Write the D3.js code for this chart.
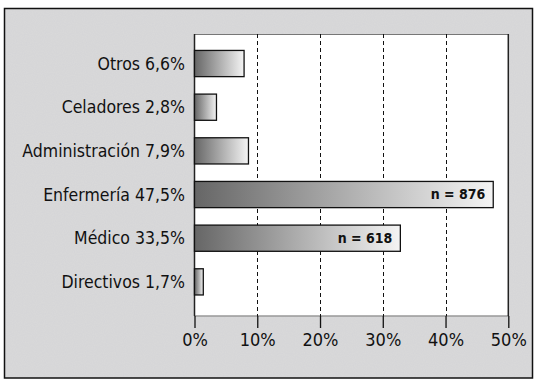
<!DOCTYPE html>
<html lang="es">
<head>
<meta charset="utf-8">
<title>Distribución por categoría</title>
<script src="https://d3js.org/d3.v7.min.js"></script>
<style>
    body{margin:0;background:#fff;}
    svg text{font-family:"Liberation Sans Narrow","DejaVu Sans Condensed","Liberation Sans",sans-serif;fill:#111;}
</style>
</head>
<body>
<div id="chart1"></div>
<script>
// categories (top to bottom), their label percentages, and bar lengths as drawn
var categories = ["Otros","Celadores","Administración","Enfermería","Médico","Directivos"]
var pctLabels = ["6,6%","2,8%","7,9%","47,5%","33,5%","1,7%"]
var barValues = [7.9,3.5,8.6,47.6,32.8,1.4]
var nLabels = ["","","","n = 876","n = 618",""]
var ticks = [0,10,20,30,40,50]

var w = 538, h = 383
var pLeft = 194.5, pRight = 508.3, pTop = 34, pBottom = 316

var svg = d3.select("#chart1").append("svg")
    .attr("width",w).attr("height",h)

var defs = svg.append("defs")
var grad = defs.append("linearGradient").attr("id","barGrad")
    .attr("x1","0%").attr("x2","100%").attr("y1","0%").attr("y2","0%")
grad.append("stop").attr("offset","0%").attr("stop-color","#666")
grad.append("stop").attr("offset","100%").attr("stop-color","#f4f4f4")

// speckled grey background
var noise = defs.append("filter").attr("id","grain").attr("x",0).attr("y",0).attr("width","100%").attr("height","100%")
noise.append("feTurbulence").attr("type","fractalNoise").attr("baseFrequency",0.9).attr("numOctaves",1).attr("seed",3).attr("result","n")
noise.append("feColorMatrix").attr("in","n").attr("type","matrix")
    .attr("values","0 0 0 0 0.6  0 0 0 0 0.6  0 0 0 0 0.68  0 0 0 0.5 -0.1")
    .attr("result","c")
noise.append("feComposite").attr("in","c").attr("in2","SourceGraphic").attr("operator","atop")

svg.append("rect").attr("x",4.5).attr("y",8.5).attr("width",528).attr("height",369.5)
    .attr("fill","#d9d9d9").attr("stroke","none").attr("filter","url(#grain)")
svg.append("rect").attr("x",4.5).attr("y",8.5).attr("width",528).attr("height",369.5)
    .attr("fill","none").attr("stroke","#111").attr("stroke-width",1.5)

var xScale = d3.scaleLinear().domain([0,50]).range([pLeft,pRight])
var yScale = d3.scaleBand().domain(categories).range([41.7,303.7])
    .paddingInner(0.4).paddingOuter(0.2)

// plot area
svg.append("rect").attr("x",pLeft).attr("y",pTop).attr("width",pRight-pLeft).attr("height",pBottom-pTop)
    .attr("fill","#fff")
svg.append("line").attr("x1",pLeft).attr("x2",pRight).attr("y1",pTop+0.5).attr("y2",pTop+0.5)
    .attr("stroke","#777").attr("stroke-width",1)
svg.append("line").attr("x1",pLeft).attr("x2",pRight).attr("y1",pBottom).attr("y2",pBottom)
    .attr("stroke","#999").attr("stroke-width",1.5)

// dashed grid inside the plot
svg.selectAll(".grid").data(ticks.slice(1,5)).enter().append("line")
    .attr("class","grid")
    .attr("x1",function(d){return Math.round(xScale(d))+0.5})
    .attr("x2",function(d){return Math.round(xScale(d))+0.5})
    .attr("y1",pTop).attr("y2",pBottom)
    .attr("stroke","#111").attr("stroke-dasharray","4,3")

// x axis ticks below the plot
var xAxis = d3.axisBottom(xScale).tickValues(ticks).tickSize(12).tickPadding(3)
    .tickFormat(function(d){return d+"%"})
var gx = svg.append("g").attr("transform","translate(0,"+pBottom+")").call(xAxis)
gx.select(".domain").remove()
gx.selectAll("line").attr("stroke","#111").attr("stroke-width",1.3)
gx.selectAll("text").attr("font-size","18px").style("font-family",'"Liberation Sans Narrow","DejaVu Sans Condensed",sans-serif').attr("fill","#111").attr("dy","0.85em")

// side borders of plot
svg.append("line").attr("x1",pLeft).attr("x2",pLeft).attr("y1",pTop).attr("y2",pBottom)
    .attr("stroke","#222").attr("stroke-width",1.5)
svg.append("line").attr("x1",pRight).attr("x2",pRight).attr("y1",pTop).attr("y2",pBottom)
    .attr("stroke","#222").attr("stroke-width",1.5)

// bars
svg.selectAll(".bar").data(categories).enter().append("rect")
    .attr("class","bar")
    .attr("x",pLeft)
    .attr("y",function(d){return yScale(d)})
    .attr("width",function(d,i){return xScale(barValues[i])-pLeft})
    .attr("height",yScale.bandwidth())
    .attr("fill","url(#barGrad)")
    .attr("stroke","#111").attr("stroke-width",1.3)

// category labels
svg.selectAll(".cat").data(categories).enter().append("text")
    .attr("class","cat")
    .attr("x",185)
    .attr("y",function(d){return yScale(d)+yScale.bandwidth()/2})
    .attr("dy","0.35em")
    .attr("text-anchor","end")
    .attr("font-size","17.5px")
    .text(function(d,i){return d+" "+pctLabels[i]})

// n labels inside the long bars
svg.selectAll(".nlab").data(categories).enter().append("text")
    .attr("class","nlab")
    .attr("x",function(d,i){return xScale(barValues[i])-8})
    .attr("y",function(d){return yScale(d)+yScale.bandwidth()/2})
    .attr("dy","0.35em")
    .attr("text-anchor","end")
    .attr("font-size","14px")
    .attr("font-weight","bold")
    .text(function(d,i){return nLabels[i]})
</script>
</body>
</html>
